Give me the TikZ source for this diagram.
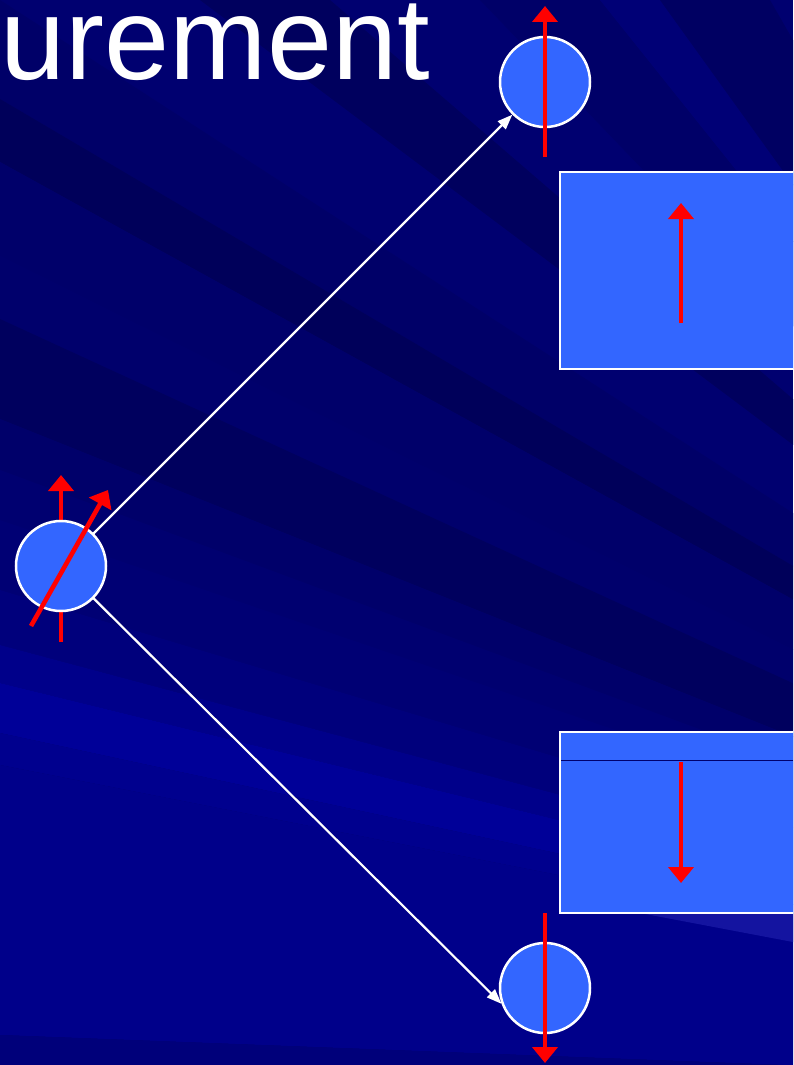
\documentclass[tikz,border=0pt]{standalone}
\usepackage{fontspec}
\setmainfont{Liberation Sans}
\usetikzlibrary{arrows.meta}
\definecolor{ball}{RGB}{51,102,255}
\definecolor{sep}{RGB}{0,0,110}
\begin{document}
\begin{tikzpicture}[x=1pt,y=-1pt,
  ballnode/.style={circle, fill=ball, draw=white, line width=2.5pt, minimum size=90pt, inner sep=0pt},
  panel/.style={rectangle, fill=ball, draw=white, line width=2.5pt, inner sep=0pt},
  spin/.style={draw=red, line width=4.6pt, -{Triangle[width=25pt,length=16pt]}},
  link/.style={draw=white, line width=2.2pt, shorten <=-1pt, -{Triangle[width=11pt,length=15pt]}},
  band/.style={fill={rgb,255:red,0;green,0;blue,#1}}]
\useasboundingbox (0,0) rectangle (793,1065);
\clip (0,0) rectangle (793,1065);
% background
\fill[band=112] (0,0) rectangle (793,1065);
\fill[band=94] (1200,750) -- (200,0) -- (330,0) -- cycle;
\fill[band=104] (1200,750) -- (480,0) -- (600,0) -- cycle;
\fill[band=118] (1200,750) -- (600,0) -- (660,0) -- cycle;
\fill[band=98] (1200,750) -- (660,0) -- (770,0) -- cycle;
\fill[band=104] (1700,1100) -- (0,0) -- (0,99) -- cycle;
\fill[band=90] (1700,1100) -- (0,99) -- (0,162) -- cycle;
\fill[band=106] (1700,1100) -- (0,162) -- (0,256) -- cycle;
\fill[band=108] (1700,1100) -- (0,256) -- (0,319) -- cycle;
\fill[band=94] (1700,1100) -- (0,319) -- (0,419) -- cycle;
\fill[band=106] (1700,1100) -- (0,419) -- (0,470) -- cycle;
\fill[band=112] (1700,1100) -- (0,470) -- (0,520) -- cycle;
\fill[band=116] (1700,1100) -- (0,520) -- (0,590) -- cycle;
\fill[band=124] (1700,1100) -- (0,590) -- (0,645) -- cycle;
\fill[band=138] (1700,1100) -- (0,645) -- (0,683) -- cycle;
\fill[band=152] (1700,1100) -- (0,683) -- (0,733) -- cycle;
\fill[band=142] (1700,1100) -- (0,733) -- (0,765) -- cycle;
\fill[band=138] (1700,1100) -- (0,765) -- (0,1035) -- cycle;
\fill[band=122] (1700,1100) -- (0,1035) -- (0,1300) -- cycle;
\fill[fill={rgb,255:red,20;green,20;blue,160}] (640,913) -- (793,913) -- (793,942) -- cycle;
% title
\node[anchor=base west, text=white, font=\fontsize{117}{117}\selectfont, inner sep=0pt] (title) at (0.5,79) {urement};
% detector panels
\node[panel, minimum width=270pt, minimum height=197pt] (up) at (695,270.5) {};
\node[panel, minimum width=270pt, minimum height=181pt] (down) at (695,822.5) {};
\draw[sep, line width=1pt] (561.3,760) -- (793,760);
% left particle
\coordinate (v0) at (61,642);
\coordinate (v1) at (61,475);
\draw[spin] (v0) -- (v1);
\node[ballnode] (L) at (61,566) {};
\coordinate (t0) at (31,626);
\coordinate (t1) at (108,490);
\draw[spin] (t0) -- (t1);
% outgoing particles
\node[ballnode] (T) at (545,82) {};
\node[ballnode] (B) at (545,988) {};
\draw[link] (L) -- (T);
\draw[link] (L) -- (B.200);
\coordinate (a0) at (545,157);
\coordinate (a1) at (545,6);
\draw[spin] (a0) -- (a1);
\coordinate (b0) at (545,913);
\coordinate (b1) at (545,1063);
\draw[spin] (b0) -- (b1);
% panel spins
\coordinate (p0) at (681,323);
\coordinate (p1) at (681,203);
\draw[spin] (p0) -- (p1);
\coordinate (q0) at (681,762);
\coordinate (q1) at (681,883);
\draw[spin] (q0) -- (q1);
\end{tikzpicture}
\end{document}
